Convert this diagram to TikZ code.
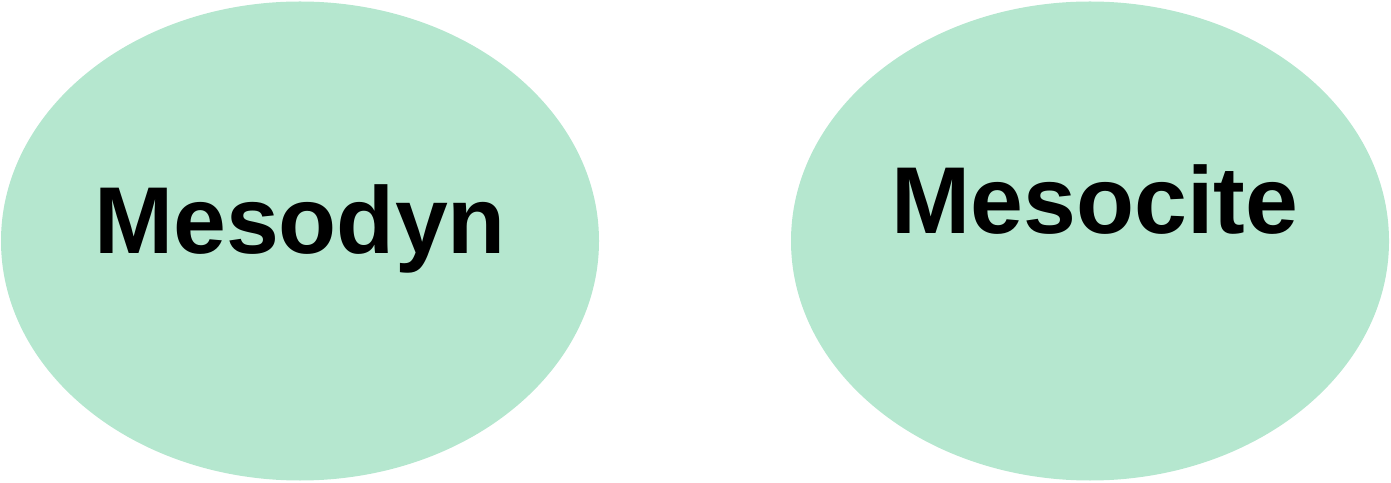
\documentclass[tikz,border=0pt]{standalone}
\usepackage{fontspec}
\setmainfont{Liberation Sans}
\usetikzlibrary{shapes.geometric}
\definecolor{blobgreen}{HTML}{B5E7CF}
\tikzset{
  blob/.style={ellipse, fill=blobgreen, draw=none, inner sep=0pt, minimum width=598pt, minimum height=479pt},
  lbl/.style={anchor=base, inner sep=0pt, font=\fontsize{95}{100}\selectfont\bfseries}
}
\begin{document}
\begin{tikzpicture}[x=1pt,y=1pt]
\useasboundingbox (0,0) rectangle (1391,482);
\node[blob] (mesodyn) at (300,241) {};
\node[blob] (mesocite) at (1090,241) {};
\node[lbl] (t1) at (300,228) {Mesodyn};
\node[lbl] (t2) at (1095,248) {Mesocite};
\end{tikzpicture}
\end{document}
